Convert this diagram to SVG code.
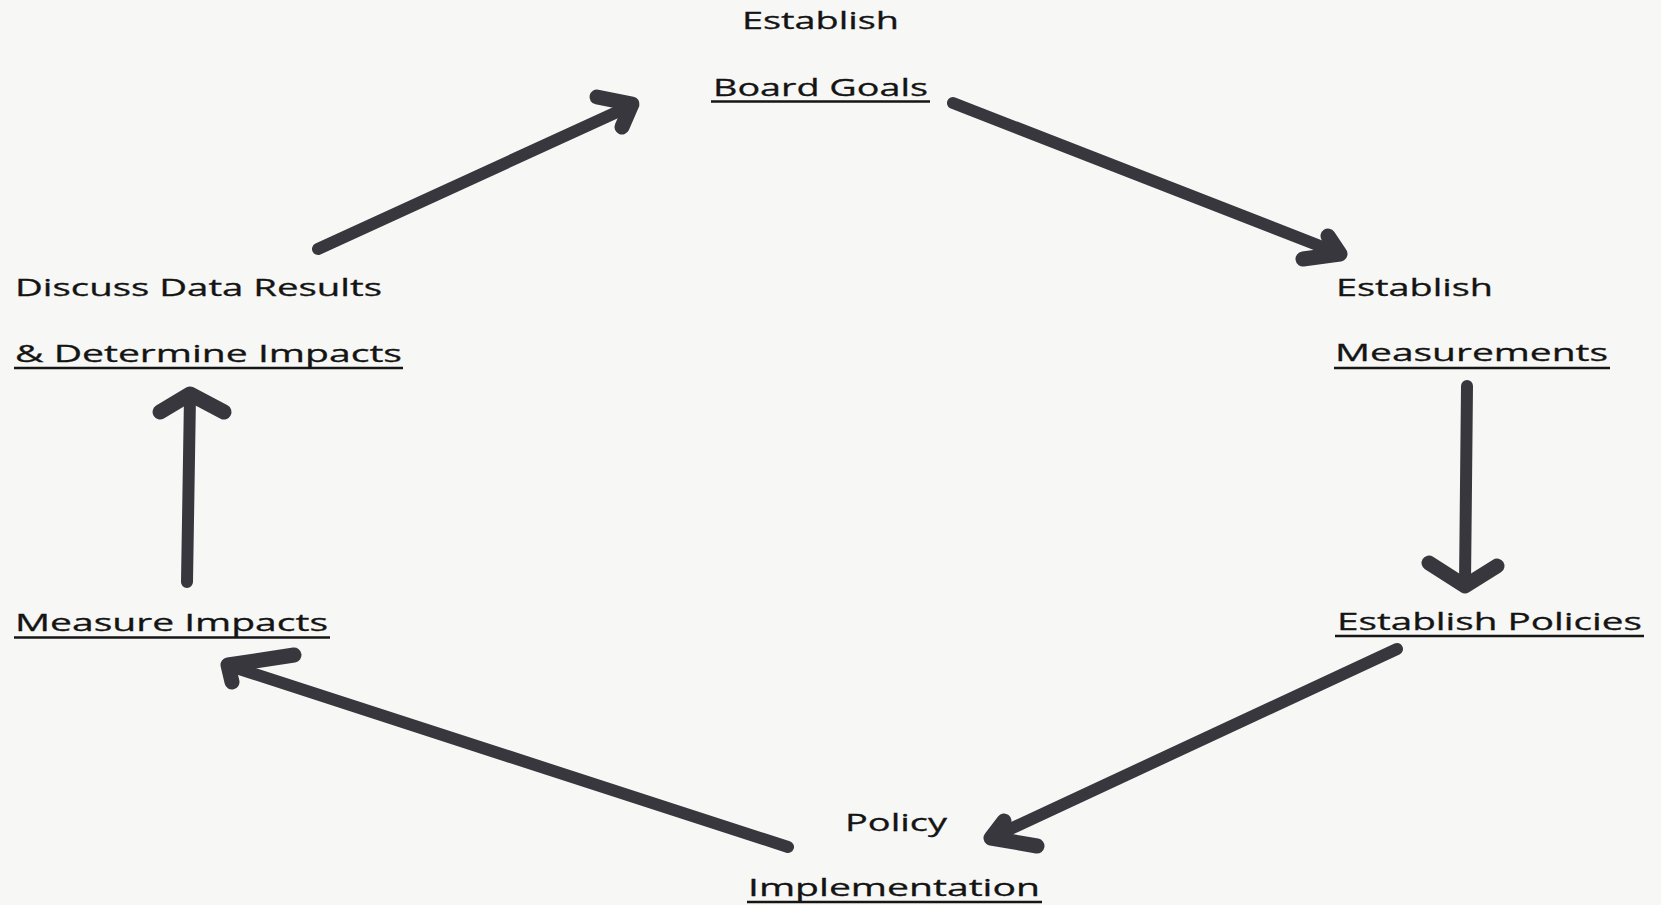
<svg xmlns="http://www.w3.org/2000/svg" width="1661" height="905" viewBox="0 0 1661 905">
  <defs>
    <style>
      .t { font-family: "Open Sans", "Noto Sans", "DejaVu Sans", sans-serif; font-size: 24.5px; fill: #141414; stroke: #141414; stroke-width: 0.3; }
      .ul { stroke: #161616; stroke-width: 2.4; }
      .shaft { fill: none; stroke: #38373d; stroke-width: 12; stroke-linecap: round; stroke-linejoin: round; }
      .head { fill: none; stroke: #38373d; stroke-width: 15; stroke-linecap: round; stroke-linejoin: round; }
    </style>
  </defs>
  <rect width="1661" height="905" fill="#f7f7f5"/>

  <g id="connectors">
    <!-- Discuss -> Board Goals -->
    <line class="shaft" x1="318" y1="249" x2="628" y2="107"/>
    <polyline class="head" points="597,97 632,104 622,127"/>
    <!-- Board Goals -> Measurements -->
    <line class="shaft" x1="953" y1="103" x2="1338" y2="253"/>
    <polyline class="head" points="1328,236 1340,254 1303,259"/>
    <!-- Measurements -> Policies -->
    <line class="shaft" x1="1467" y1="386" x2="1465" y2="584"/>
    <polyline class="head" points="1429,563 1465,586 1497,566"/>
    <!-- Policies -> Implementation -->
    <line class="shaft" x1="1397" y1="649" x2="993" y2="837"/>
    <polyline class="head" points="1004,821 991,838 1037,846"/>
    <!-- Implementation -> Measure Impacts -->
    <line class="shaft" x1="788" y1="847" x2="230" y2="666"/>
    <polyline class="head" points="294,655 228,665 232,682"/>
    <!-- Measure Impacts -> Discuss -->
    <line class="shaft" x1="187" y1="582" x2="190" y2="396"/>
    <polyline class="head" points="160,412 190,394 224,412"/>
  </g>

  <g id="node-board-goals">
    <text class="t" x="742" y="29" textLength="157" lengthAdjust="spacingAndGlyphs">Establish</text>
    <text class="t" x="713" y="96" textLength="215" lengthAdjust="spacingAndGlyphs">Board Goals</text>
    <line class="ul" x1="711" y1="101.5" x2="930" y2="101.5"/>
  </g>

  <g id="node-measurements">
    <text class="t" x="1336" y="296" textLength="157" lengthAdjust="spacingAndGlyphs">Establish</text>
    <text class="t" x="1335" y="361" textLength="273" lengthAdjust="spacingAndGlyphs">Measurements</text>
    <line class="ul" x1="1334" y1="368" x2="1610" y2="368"/>
  </g>

  <g id="node-policies">
    <text class="t" x="1337" y="630" textLength="305" lengthAdjust="spacingAndGlyphs">Establish Policies</text>
    <line class="ul" x1="1335" y1="636" x2="1644" y2="636"/>
  </g>

  <g id="node-implementation">
    <text class="t" x="845" y="831" textLength="102" lengthAdjust="spacingAndGlyphs">Policy</text>
    <text class="t" x="748" y="896" textLength="292" lengthAdjust="spacingAndGlyphs">Implementation</text>
    <line class="ul" x1="747" y1="902" x2="1042" y2="902"/>
  </g>

  <g id="node-measure-impacts">
    <text class="t" x="15" y="631" textLength="313" lengthAdjust="spacingAndGlyphs">Measure Impacts</text>
    <line class="ul" x1="14" y1="637.5" x2="330" y2="637.5"/>
  </g>

  <g id="node-discuss">
    <text class="t" x="15" y="296" textLength="367" lengthAdjust="spacingAndGlyphs">Discuss Data Results</text>
    <text class="t" x="15" y="362" textLength="387" lengthAdjust="spacingAndGlyphs">&amp; Determine Impacts</text>
    <line class="ul" x1="14" y1="368" x2="403" y2="368"/>
  </g>
</svg>
